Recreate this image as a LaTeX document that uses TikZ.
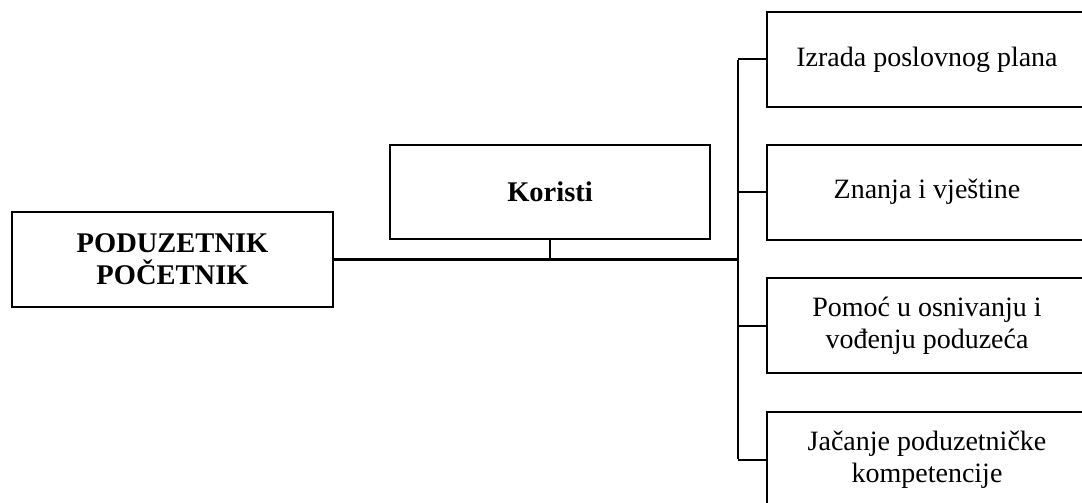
\documentclass[tikz,border=0pt]{standalone}
\usepackage{fontspec}
\setmainfont{Liberation Serif}
\begin{document}
\begin{tikzpicture}[x=1pt,y=-1pt,
  box/.style={draw=black, line width=2pt, fill=white, minimum width=320pt, minimum height=95pt,
    align=center, inner sep=0pt, font=\fontsize{28}{32}\selectfont},
  conn/.style={draw=black, line width=2pt},
  mainconn/.style={draw=black, line width=3pt}]
\useasboundingbox (0,0) rectangle (1082,503);
\node[box, minimum width=321pt, font=\fontsize{28.5}{32}\selectfont\bfseries] (pod) at (172.5,259.5) {PODUZETNIK\\POČETNIK};
\node[box, minimum height=94pt, font=\fontsize{28.5}{32}\selectfont\bfseries] (kor) at (550,192) {Koristi};
\node[box] (r1) at (927,59.5) {Izrada poslovnog plana};
\node[box] (r2) at (927,192) {Znanja i vještine};
\node[box] (r3) at (927,325.5) {Pomoć u osnivanju i\\vođenju poduzeća};
\node[box] (r4) at (927,459.5) {Jačanje poduzetničke\\kompetencije};
\coordinate (jn) at (738,259.5);
\coordinate (ttop) at (738,59.5);
\coordinate (tbot) at (738,459.5);
\draw[mainconn] (pod.east) -- (jn);
\draw[conn] (kor.south) -- (kor.south |- jn);
\draw[conn] ([yshift=-1pt]ttop) -- ([yshift=1pt]tbot);
\draw[conn] (ttop) -- (r1.west);
\draw[conn] (r2.west -| ttop) -- (r2.west);
\draw[conn] (r3.west -| ttop) -- (r3.west);
\draw[conn] (tbot) -- (r4.west);
\end{tikzpicture}
\end{document}
